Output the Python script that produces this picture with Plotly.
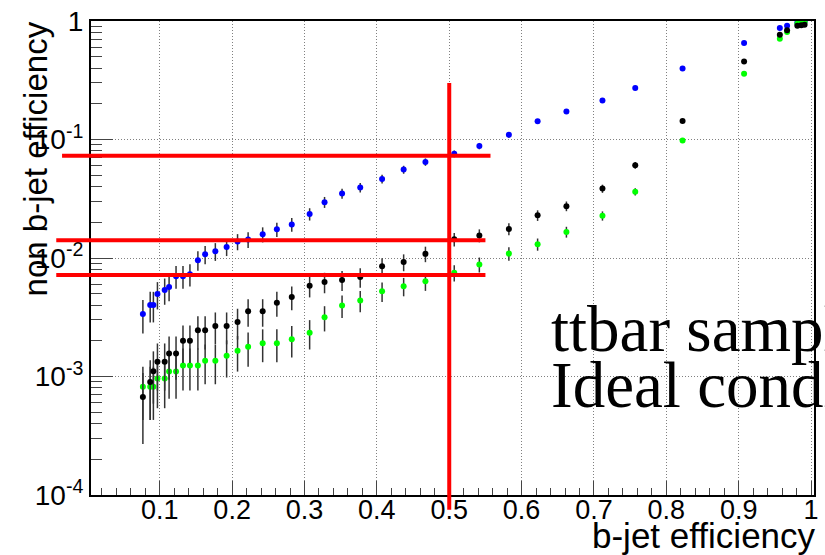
import math
import plotly.graph_objects as go

# ---------------- data ----------------
b_eff = [0.0767, 0.0868, 0.0912, 0.0968, 0.1068, 0.1129, 0.1225, 0.1321, 0.1417, 0.1527,
         0.1627, 0.1768, 0.1924, 0.2075, 0.2221, 0.2422, 0.2618, 0.2824, 0.3071, 0.3277,
         0.3519, 0.3770, 0.4072, 0.4370, 0.4671, 0.5069, 0.5416, 0.5824, 0.6221, 0.6619,
         0.7117, 0.7570, 0.8224, 0.9074, 0.9568, 0.9668, 0.9810, 0.9865, 0.9910]

blue_eff = [0.00337, 0.00402, 0.00402, 0.00497, 0.00537, 0.00569, 0.00703, 0.00703, 0.00731, 0.00959,
            0.01076, 0.0114, 0.01241, 0.01376, 0.0143, 0.01584, 0.01745, 0.0192, 0.0235, 0.0296,
            0.035, 0.0393, 0.0465, 0.0557, 0.0646, 0.0758, 0.0881, 0.1095, 0.1427, 0.1722,
            0.213, 0.2717, 0.398, 0.653, 0.873, 0.913, 0.967, 0.98, 0.99]
blue_err = [0.00106, 0.00116, 0.00116, 0.00129, 0.00134, 0.00138, 0.00153, 0.00153, 0.00156, 0.00179,
            0.00189, 0.00195, 0.00203, 0.00214, 0.00218, 0.0023, 0.00241, 0.00253, 0.0028, 0.00314,
            0.00342, 0.00362, 0.00394, 0.00431, 0.00464, 0.00503, 0.00542, 0.006, 0.0064, 0.0069,
            0.0075, 0.0081, 0.0089, 0.0087, 0.006, 0.005, 0.003, 0.0025, 0.0018]

black_eff = [0.00067, 0.0009, 0.00111, 0.00133, 0.00133, 0.00156, 0.00156, 0.002, 0.002, 0.00246,
             0.00246, 0.00267, 0.00267, 0.00289, 0.00356, 0.00356, 0.0042, 0.00469, 0.00584, 0.00627,
             0.00651, 0.0069, 0.0085, 0.00923, 0.01084, 0.01438, 0.0155, 0.0176, 0.0229, 0.0274,
             0.0385, 0.0606, 0.1435, 0.455, 0.767, 0.834, 0.913, 0.92, 0.93]
black_err = [0.0004, 0.00047, 0.00052, 0.00057, 0.00057, 0.00062, 0.00062, 0.0007, 0.0007, 0.00077,
             0.00077, 0.0008, 0.0008, 0.00084, 0.00093, 0.00093, 0.001, 0.00107, 0.00119, 0.00123,
             0.00125, 0.00129, 0.00143, 0.0015, 0.00162, 0.00187, 0.00194, 0.00207, 0.00235, 0.00257,
             0.00305, 0.00383, 0.0055, 0.0077, 0.0066, 0.0055, 0.0044, 0.0042, 0.004]

green_eff = [0.00082, 0.00082, 0.00082, 0.00096, 0.00096, 0.0011, 0.0011, 0.00124, 0.00124, 0.00124,
             0.00136, 0.00136, 0.0015, 0.00165, 0.00178, 0.00191, 0.00191, 0.00206, 0.00234, 0.00316,
             0.00397, 0.00437, 0.00523, 0.00577, 0.00635, 0.0075, 0.00882, 0.0109, 0.01306, 0.0166,
             0.0227, 0.0362, 0.0983, 0.359, 0.71, 0.808, 0.95, 0.965, 0.975]
green_err = [0.00039, 0.00039, 0.00039, 0.00042, 0.00042, 0.00045, 0.00045, 0.00048, 0.00048, 0.00048,
             0.0005, 0.0005, 0.00052, 0.00055, 0.00057, 0.00059, 0.00059, 0.00061, 0.00065, 0.00076,
             0.00085, 0.00089, 0.00098, 0.00102, 0.00107, 0.00117, 0.00127, 0.00141, 0.00154, 0.00174,
             0.00203, 0.00257, 0.004, 0.0065, 0.006, 0.0053, 0.003, 0.0025, 0.002]

# working point markers (red lines)
cut_b_eff = 0.5
cut_mistag = [0.0729, 0.0141, 0.00717]
hline_start = [-0.035, -0.043, -0.043]   # in b-jet efficiency units
hline_end = [0.557, 0.550, 0.550]
vline_top = 0.3                           # in non b-jet efficiency units

x_tick_vals = [0.1, 0.2, 0.3, 0.4, 0.5, 0.6, 0.7, 0.8, 0.9, 1.0]
x_tick_text = ["0.1", "0.2", "0.3", "0.4", "0.5", "0.6", "0.7", "0.8", "0.9", "1"]
y_tick_vals = [1e-4, 1e-3, 1e-2, 1e-1, 1]
y_tick_text = ["10<sup>-4</sup>", "10<sup>-3</sup>", "10<sup>-2</sup>", "10<sup>-1</sup>", "1"]

x_range = [0.005, 1.004]
y_range_log = [-4, 0]

# ---------------- figure ----------------
fig = go.Figure()

def add_series(y, err, color):
    fig.add_trace(go.Scatter(
        x=b_eff, y=y, mode="markers",
        marker=dict(color=color, size=6, symbol="circle"),
        error_y=dict(type="data", array=err, visible=True, color="#333333",
                     thickness=1.5, width=0),
        showlegend=False, cliponaxis=True))

add_series(blue_eff, blue_err, "#0000ff")
add_series(green_eff, green_err, "#00ff00")
add_series(black_eff, black_err, "#000000")

def to_paper_x(v):
    return (v - x_range[0]) / (x_range[1] - x_range[0])

def to_paper_y(v):
    return (math.log10(v) - y_range_log[0]) / (y_range_log[1] - y_range_log[0])

shapes = []
for yv, xs, xe in zip(cut_mistag, hline_start, hline_end):
    shapes.append(dict(type="line", xref="paper", yref="y",
                       x0=to_paper_x(xs), x1=to_paper_x(xe), y0=yv, y1=yv,
                       line=dict(color="#ff0000", width=4), layer="above"))
shapes.append(dict(type="line", xref="x", yref="paper",
                   x0=cut_b_eff, x1=cut_b_eff, y0=to_paper_y(vline_top), y1=-0.031,
                   line=dict(color="#ff0000", width=4), layer="above"))

annotations = [
    dict(text="ttbar sample", xref="paper", yref="paper", x=0.634, y=0.271,
         xanchor="left", yanchor="bottom", showarrow=False,
         font=dict(family="Liberation Serif", size=65, color="black")),
    dict(text="Ideal conditions", xref="paper", yref="paper", x=0.634, y=0.152,
         xanchor="left", yanchor="bottom", showarrow=False,
         font=dict(family="Liberation Serif", size=65, color="black")),
    dict(text="b-jet efficiency", xref="paper", yref="paper", x=1.005, y=-0.04,
         xanchor="right", yanchor="top", showarrow=False,
         font=dict(family="Liberation Sans", size=35, color="black")),
    dict(text="non b-jet efficiency", xref="paper", yref="paper", x=-0.077, y=1.003,
         xanchor="center", yanchor="top", textangle=-90, showarrow=False,
         font=dict(family="Liberation Sans", size=33, color="black")),
]

grid_dash = "1px,2px"

fig.update_layout(
    width=825, height=555,
    margin=dict(l=91, r=6, t=18, b=60),
    paper_bgcolor="white", plot_bgcolor="white",
    shapes=shapes, annotations=annotations,
    font=dict(family="Liberation Sans", color="black"),
    xaxis=dict(range=x_range, tickmode="array", tickvals=x_tick_vals, ticktext=x_tick_text,
               ticks="inside", ticklen=14, tickcolor="#444", tickwidth=1,
               minor=dict(ticks="inside", ticklen=7, dtick=0.02, tick0=0, tickcolor="#444",
                          showgrid=False),
               showgrid=True, gridcolor="#808080", griddash=grid_dash, gridwidth=1,
               showline=True, linecolor="black", linewidth=2, mirror=True,
               zeroline=False, ticklabelstandoff=-10,
               tickfont=dict(size=27, family="Liberation Sans")),
    yaxis=dict(type="log", range=y_range_log, tickmode="array", tickvals=y_tick_vals,
               ticktext=y_tick_text,
               ticks="inside", ticklen=22, tickcolor="#444", tickwidth=1,
               minor=dict(ticks="inside", ticklen=11, dtick="D1", tickcolor="#444",
                          showgrid=False),
               showgrid=True, gridcolor="#808080", griddash=grid_dash, gridwidth=1,
               showline=True, linecolor="black", linewidth=2, mirror=True,
               zeroline=False, tickfont=dict(size=28, family="Liberation Sans")),
)

fig.write_html("out.html")
